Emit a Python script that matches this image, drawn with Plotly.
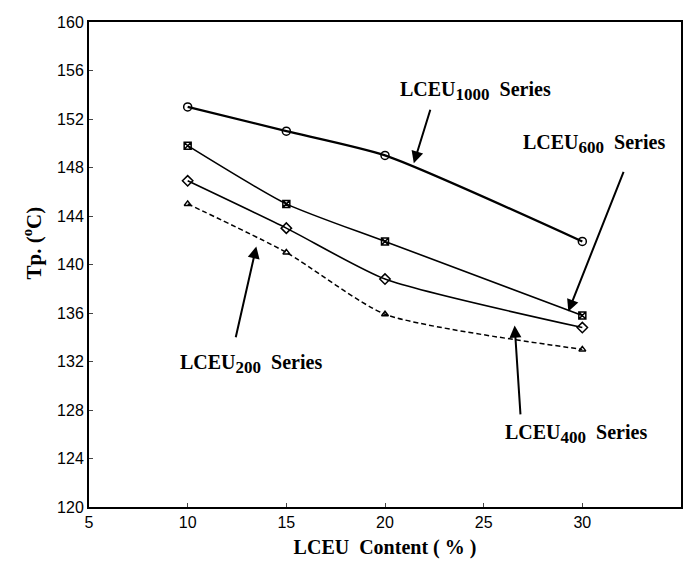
import plotly.graph_objects as go

content = [10, 15, 20, 30]
tp_1000 = [153, 151, 149, 141.9]
tp_600 = [149.8, 145, 141.9, 135.8]
tp_400 = [146.9, 143, 138.8, 134.8]
tp_200 = [145, 141, 135.9, 133]

x_ticks = [5, 10, 15, 20, 25, 30, 35]
y_ticks = [120, 124, 128, 132, 136, 140, 144, 148, 152, 156, 160]

series = [
    ("LCEU1000", tp_1000, "circle-open", 8, "solid", 2.2),
    ("LCEU600", tp_600, "square-x-open", 7, "solid", 1.6),
    ("LCEU400", tp_400, "diamond-open", 8, "solid", 1.6),
    ("LCEU200", tp_200, "triangle-up-open", 6, "5px,3px", 1.5),
]

fig = go.Figure()
for name, vals, sym, sz, dash, w in series:
    fig.add_trace(go.Scatter(
        x=content, y=vals, mode="lines+markers", name=name,
        line=dict(color="black", width=w, dash=dash, shape="spline", smoothing=0.6),
        marker=dict(symbol=sym, size=sz, color="black", line=dict(color="black", width=1.5)),
        showlegend=False))

serif = "Liberation Serif"
sub = "<sub><span style='font-size:17px'>%s</span></sub>"
labels = [
    ("<b>LCEU" + sub % "1000" + "  Series</b>", 24.6, 154.3),
    ("<b>LCEU" + sub % "600" + "  Series</b>", 30.6, 149.9),
    ("<b>LCEU" + sub % "400" + "  Series</b>", 29.7, 126.0),
    ("<b>LCEU" + sub % "200" + "  Series</b>", 13.23, 131.8),
]
for txt, x, y in labels:
    fig.add_annotation(x=x, y=y, xref="x", yref="y", text=txt, showarrow=False,
                       font=dict(family=serif, size=20, color="black"),
                       xanchor="center", yanchor="middle")

arrows = [
    (21.46, 148.35, 22.32, 152.89),
    (29.29, 136.12, 32.12, 147.77),
    (26.57, 134.96, 26.87, 127.52),
    (13.48, 141.49, 12.42, 133.88),
]
for hx, hy, tx, ty in arrows:
    fig.add_annotation(x=hx, y=hy, ax=tx, ay=ty, xref="x", yref="y", axref="x", ayref="y",
                       text="", showarrow=True, arrowhead=2, arrowsize=1.2, arrowwidth=2,
                       arrowcolor="black", standoff=0, startstandoff=0)

# y-axis title (placed slightly above plot centre, as in the reference)
fig.add_annotation(x=-0.095, y=0.545, xref="paper", yref="paper",
                   text="<b>Tp. (<sup>o</sup>C)</b>", textangle=-90, showarrow=False,
                   font=dict(family=serif, size=21, color="black"),
                   xanchor="center", yanchor="middle")

fig.update_layout(
    width=686, height=571,
    margin=dict(l=89, r=3, t=22, b=64),
    plot_bgcolor="white", paper_bgcolor="white",
    font=dict(family="Liberation Sans", size=16, color="black"),
)
fig.update_xaxes(range=[5, 35], tickvals=x_ticks, ticks="inside", ticklen=4,
                 showline=True, linecolor="black", linewidth=2, mirror=True,
                 showgrid=False, zeroline=False,
                 title=dict(text="<b>LCEU  Content ( % )</b>", font=dict(family=serif, size=20), standoff=10))
fig.update_yaxes(range=[120, 160], tickvals=y_ticks, ticks="inside", ticklen=4,
                 showline=True, linecolor="black", linewidth=2, mirror=True,
                 showgrid=False, zeroline=False)

fig.write_html("out.html")
